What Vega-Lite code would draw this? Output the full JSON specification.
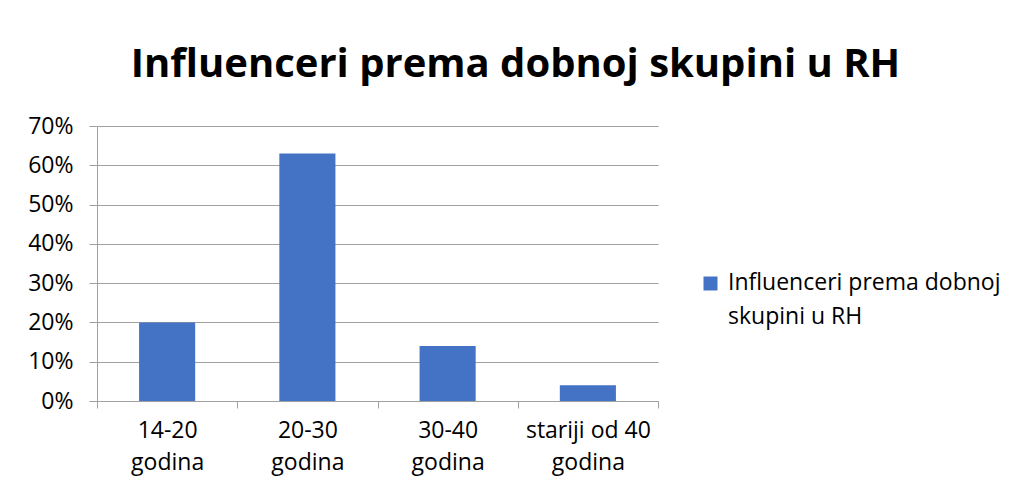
{
  "$schema": "https://vega.github.io/schema/vega-lite/v6.json",
  "autosize": {"type": "none"},
  "width": 561,
  "height": 275,
  "padding": {"left": 97, "top": 126, "right": 353, "bottom": 90},
  "background": "white",
  "title": {
    "text": "Influenceri prema dobnoj skupini u RH",
    "font": "Open Sans",
    "fontSize": 40,
    "fontWeight": "bold",
    "color": "#000000",
    "anchor": "middle",
    "frame": "group",
    "dx": 138,
    "dy": 42,
    "baseline": "alphabetic",
    "offset": 40
  },
  "data": {
    "values": [
      {"kategorija": "14-20 godina", "serija": "Influenceri prema dobnoj skupini u RH", "udio": 0.20},
      {"kategorija": "20-30 godina", "serija": "Influenceri prema dobnoj skupini u RH", "udio": 0.63},
      {"kategorija": "30-40 godina", "serija": "Influenceri prema dobnoj skupini u RH", "udio": 0.14},
      {"kategorija": "stariji od 40 godina", "serija": "Influenceri prema dobnoj skupini u RH", "udio": 0.04}
    ]
  },
  "mark": {"type": "bar", "width": {"band": 0.4}},
  "encoding": {
    "x": {
      "field": "kategorija",
      "type": "nominal",
      "sort": null,
      "title": null,
      "scale": {"paddingInner": 0, "paddingOuter": 0},
      "axis": {
        "labelAngle": 0,
        "labelExpr": "indexof(datum.label || '', 'godina') >= 0 ? [replace(datum.label, ' godina', ''), 'godina'] : ''",
        "labelFont": "Open Sans",
        "labelFontSize": 23,
        "labelColor": "#000000",
        "labelLineHeight": 32,
        "labelPadding": 11,
        "tickBand": "extent",
        "tickSize": 7,
        "tickColor": "#a0a0a0",
        "domainColor": "#a0a0a0",
        "grid": false
      }
    },
    "y": {
      "field": "udio",
      "type": "quantitative",
      "title": null,
      "scale": {"domain": [0, 0.7], "nice": false},
      "axis": {
        "values": [0, 0.1, 0.2, 0.3, 0.4, 0.5, 0.6, 0.7],
        "format": ".0%",
        "labelFont": "Open Sans",
        "labelFontSize": 23,
        "labelColor": "#000000",
        "labelPadding": 16,
        "tickSize": 8,
        "tickColor": "#a0a0a0",
        "domainColor": "#a0a0a0",
        "gridColor": "#a0a0a0",
        "grid": true
      }
    },
    "color": {
      "field": "serija",
      "type": "nominal",
      "scale": {"range": ["#4472C4"]},
      "legend": {
        "title": null,
        "orient": "none",
        "legendX": 602,
        "legendY": 146,
        "padding": 0,
        "symbolType": "square",
        "symbolSize": 196,
        "symbolStrokeWidth": 0,
        "labelFont": "Open Sans",
        "labelFontSize": 23,
        "labelColor": "#000000",
        "labelOffset": 6,
        "labelLimit": 400,
        "labelBaseline": "alphabetic",
        "labelExpr": "['Influenceri prema dobnoj', 'skupini u RH']",
        "encode": {"labels": {"update": {"lineHeight": {"value": 34}, "dy": {"value": 6}}}}
      }
    }
  },
  "config": {
    "view": {"stroke": null},
    "axis": {"gridWidth": 1, "domainWidth": 1, "tickWidth": 1}
  }
}
